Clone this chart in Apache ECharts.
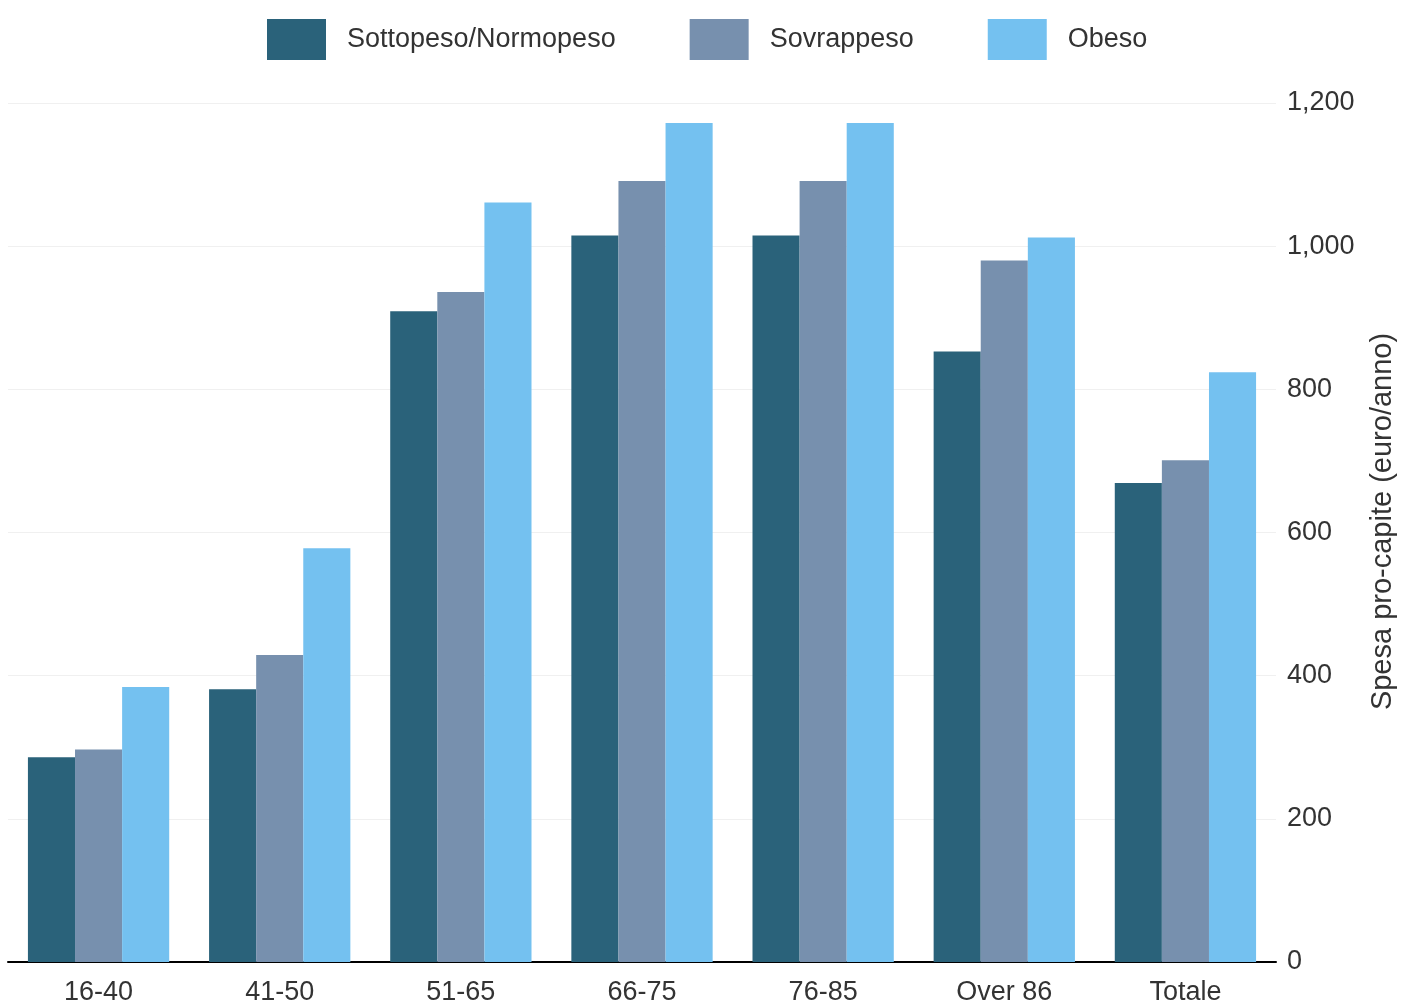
<!DOCTYPE html>
<html><head><meta charset="utf-8">
<script src="https://cdn.jsdelivr.net/npm/echarts@6/dist/echarts.min.js"></script>
<style>html,body{margin:0;padding:0;background:#fff}#c{width:1402px;height:1006px}</style>
</head><body><div id="c"></div>
<script>
const categories = ['16-40','41-50','51-65','66-75','76-85','Over 86','Totale'];
const seriesNames = ['Sottopeso/Normopeso','Sovrappeso','Obeso'];
const sottoNormo = [286, 381, 909, 1015, 1015, 853, 669];
const sovrappeso = [297, 429, 936, 1091, 1091, 980, 701];
const obeso = [384, 578, 1061, 1172, 1172, 1012, 824];
const colors = ['#2a627a','#7790ae','#74c1f0'];
const yTicks = {min:0, max:1200, interval:200};

const chart = echarts.init(document.getElementById('c'), null, {renderer:'canvas'});
const narrow = '"Liberation Sans Narrow", "Arial Narrow", "Liberation Sans", sans-serif';
const mk = (name, data, i) => ({
  name, type:'bar', data, barGap:'0%', barCategoryGap:'22%',
  itemStyle:{color:colors[i]}
});
chart.setOption({
  animation:false,
  grid:{left:8, right:126, top:103, bottom:44, containLabel:false, outerBoundsMode:'none'},
  legend:{
    top:14, left:262, itemWidth:59, itemHeight:41, itemGap:74,
    textStyle:{fontFamily:narrow, fontSize:27, color:'#333', padding:[0,0,0,16]},
    data:seriesNames.map((n,i)=>({name:n, icon:'rect', itemStyle:{color:colors[i]}}))
  },
  xAxis:{
    type:'category', data:categories,
    axisLine:{lineStyle:{color:'#000', width:2}},
    axisTick:{show:false},
    axisLabel:{fontFamily:narrow, fontSize:27, color:'#333', margin:17}
  },
  yAxis:{
    type:'value', position:'right', min:yTicks.min, max:yTicks.max, interval:yTicks.interval,
    name:'Spesa pro-capite (euro/anno)', nameLocation:'middle', nameGap:92, nameRotate:90,
    nameTextStyle:{fontFamily:'"Liberation Sans", Arial, sans-serif', fontSize:29, color:'#333',
      padding:[0,0,0,22]},
    axisLine:{show:false}, axisTick:{show:false},
    splitLine:{lineStyle:{color:'#f0f0f0', width:1}},
    axisLabel:{fontFamily:narrow, fontSize:27, color:'#333', margin:11,
      formatter:v=>v.toLocaleString('en-US')}
  },
  series:[mk(seriesNames[0], sottoNormo, 0), mk(seriesNames[1], sovrappeso, 1), mk(seriesNames[2], obeso, 2)]
});
</script></body></html>
